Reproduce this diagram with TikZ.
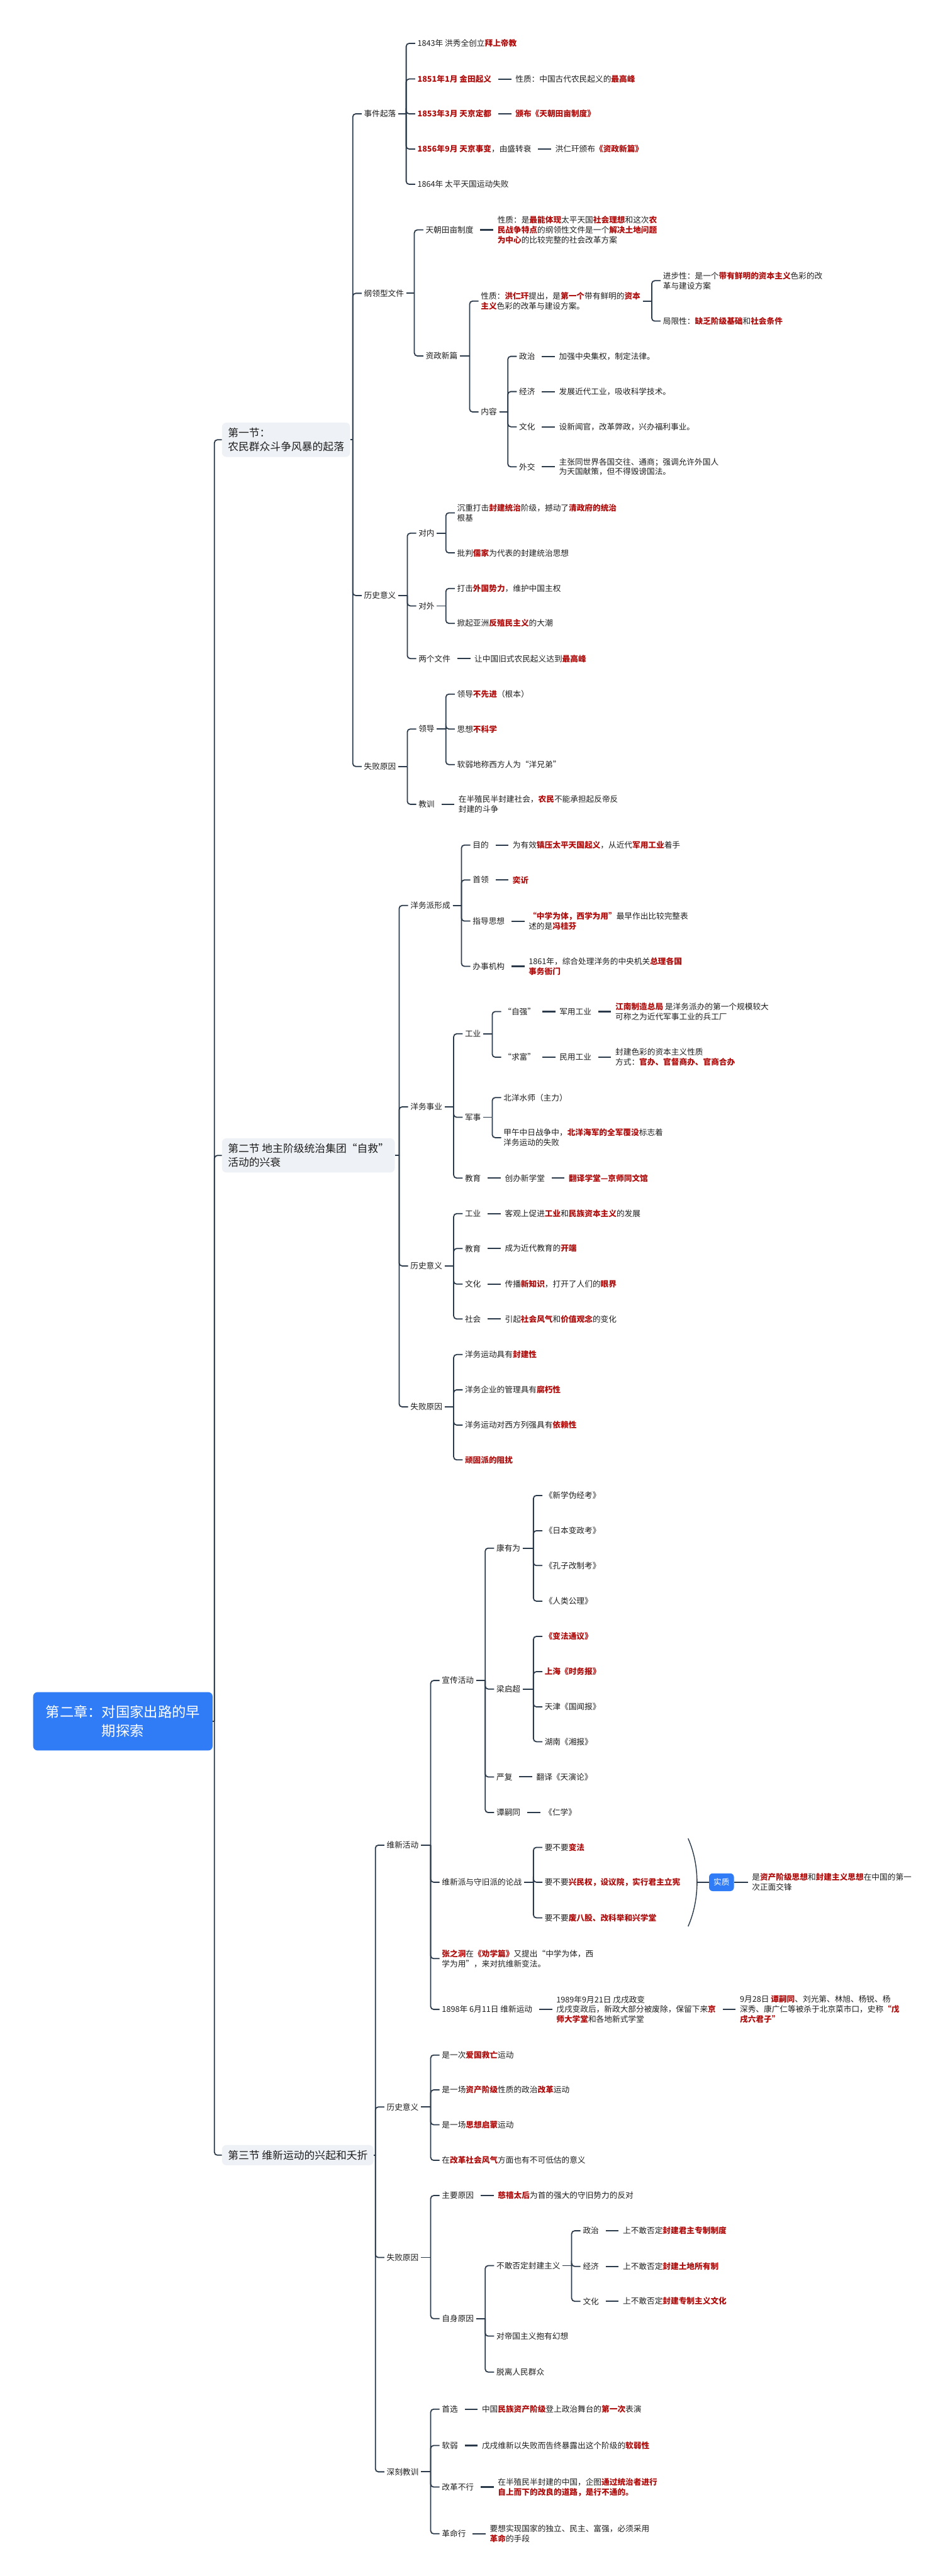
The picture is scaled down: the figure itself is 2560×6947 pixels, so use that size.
\documentclass[tikz,border=0pt]{standalone}
\usepackage{fontspec}
\setmainfont{Noto Sans CJK SC}
\usetikzlibrary{positioning}

\definecolor{ink}{HTML}{1E1E1E}
\definecolor{keyred}{HTML}{B00D0D}
\definecolor{linec}{HTML}{2B3A4B}
\definecolor{rootblue}{HTML}{2F7CF6}
\definecolor{secfill}{HTML}{EEF1F5}

\newcommand{\kw}[1]{\textcolor{keyred}{\bfseries #1}}
\newcommand{\fs}{\fontsize{10.75pt}{13.5pt}\selectfont}
% parent -> bar -> hooked children
\newcommand{\fork}[3][12pt]{%
  \foreach \kid in {#3} {
    \path (#2.east -| \kid.west) ++(-#1,0) coordinate (j);
    \draw[link] (#2.east) -- (j);
    \draw[link, rounded corners=4pt] (j) |- (\kid.west);
  }}

\begin{document}
\begin{tikzpicture}[
  x=0.5pt, y=-0.5pt, node distance=26pt,
  txt/.style={anchor=west, inner xsep=3pt, inner ysep=2pt, align=left, font=\fs, text=ink},
  sec/.style={anchor=west, fill=secfill, rounded corners=6pt, inner xsep=8pt, inner ysep=7pt,
              align=left, text=ink, font=\fontsize{14.25pt}{19pt}\selectfont},
  root/.style={anchor=west, fill=rootblue, rounded corners=6pt, inner xsep=17pt, inner ysep=18pt,
               align=center, text=white, font=\fontsize{18.9pt}{25pt}\selectfont},
  tag/.style={fill=rootblue, rounded corners=5pt, text=white, font=\fs, inner xsep=6pt, inner ysep=7pt},
  link/.style={draw=linec, line width=1.5pt},
  tie/.style={link, line width=1.8pt, shorten <=6pt, shorten >=2.5pt}
]
\fill[white] (0,0) rectangle (2560,6947);
\useasboundingbox (0,0) rectangle (2560,6947);

% root and sections
\node[root] (root) at (89,4642) {第二章：对国家出路的早\\期探索};
\node[sec] (s1) at (598,1186) {第一节：\\农民群众斗争风暴的起落};
\node[sec] (s2) at (598,3116) {第二节 地主阶级统治集团“自救”\\活动的兴衰};
\node[sec] (s3) at (598,5812) {第三节 维新运动的兴起和夭折};
\fork[10pt]{root}{s1,s2,s3}

% ---------- section 1
\node[txt] (sj) at (975,307) {事件起落};
\node[txt] (gl) at (975,791) {纲领型文件};
\node[txt] (ls1) at (975,1606) {历史意义};
\node[txt] (sb1) at (975,2067) {失败原因};
\fork{s1}{sj,gl,ls1,sb1}

\node[txt] (sj1) at (1119,117) {1843年 洪秀全创立\kw{拜上帝教}};
\node[txt] (sj2) at (1119,213) {\kw{1851年1月 金田起义}};
\node[txt, right=of sj2] (sj2a) {性质：中国古代农民起义的\kw{最高峰}};
\node[txt] (sj3) at (1119,307) {\kw{1853年3月 天京定都}};
\node[txt, right=of sj3] (sj3a) {\kw{颁布《天朝田亩制度》}};
\node[txt] (sj4) at (1119,402) {\kw{1856年9月 天京事变}，由盛转衰};
\node[txt, right=of sj4] (sj4a) {洪仁玕颁布\kw{《资政新篇》}};
\node[txt] (sj5) at (1119,497) {1864年 太平天国运动失败};
\fork{sj}{sj1,sj2,sj3,sj4,sj5}
\draw[tie] (sj2) -- (sj2a);
\draw[tie] (sj3) -- (sj3a);
\draw[tie] (sj4) -- (sj4a);

\node[txt] (tc) at (1141,620) {天朝田亩制度};
\node[txt, right=of tc] (tca) {性质：是\kw{最能体现}太平天国\kw{社会理想}和这次\kw{农}\\\kw{民战争特点}的纲领性文件是一个\kw{解决土地问题}\\\kw{为中心}的比较完整的社会改革方案};
\node[txt] (zx) at (1141,960) {资政新篇};
\fork{gl}{tc,zx}
\draw[tie] (tc) -- (tca);

\node[txt] (zx1) at (1290,812) {性质：\kw{洪仁玕}提出，是\kw{第一个}带有鲜明的\kw{资本}\\\kw{主义}色彩的改革与建设方案。};
\node[txt] (zx2) at (1290,1111) {内容};
\fork{zx}{zx1,zx2}
\node[txt] (jb) at (1781,757) {进步性：是一个\kw{带有鲜明的资本主义}色彩的改\\革与建设方案};
\node[txt] (jxz) at (1781,866) {局限性：\kw{缺乏阶级基础}和\kw{社会条件}};
\fork{zx1}{jb,jxz}

\node[txt] (nr1) at (1393,961) {政治};
\node[txt] (nr2) at (1393,1056) {经济};
\node[txt] (nr3) at (1393,1151) {文化};
\node[txt] (nr4) at (1393,1259) {外交};
\fork{zx2}{nr1,nr2,nr3,nr4}
\node[txt, right=of nr1] (nr1a) {加强中央集权，制定法律。};
\node[txt, right=of nr2] (nr2a) {发展近代工业，吸收科学技术。};
\node[txt, right=of nr3] (nr3a) {设新闻官，改革弊政，兴办福利事业。};
\node[txt, right=of nr4] (nr4a) {主张同世界各国交往、通商；强调允许外国人\\为天国献策，但不得毁谤国法。};
\draw[tie] (nr1) -- (nr1a);
\draw[tie] (nr2) -- (nr2a);
\draw[tie] (nr3) -- (nr3a);
\draw[tie] (nr4) -- (nr4a);

\node[txt] (dn) at (1122,1438) {对内};
\node[txt] (dw) at (1122,1634) {对外};
\node[txt] (lg) at (1122,1776) {两个文件};
\fork{ls1}{dn,dw,lg}
\node[txt] (dn1) at (1226,1383) {沉重打击\kw{封建统治}阶级，撼动了\kw{清政府的统治}\\根基};
\node[txt] (dn2) at (1226,1491) {批判\kw{儒家}为代表的封建统治思想};
\fork{dn}{dn1,dn2}
\node[txt] (dw1) at (1226,1587) {打击\kw{外国势力}，维护中国主权};
\node[txt] (dw2) at (1226,1681) {掀起亚洲\kw{反殖民主义}的大潮};
\fork{dw}{dw1,dw2}
\node[txt, right=of lg] (lga) {让中国旧式农民起义达到\kw{最高峰}};
\draw[tie] (lg) -- (lga);

\node[txt] (ld) at (1122,1966) {领导};
\node[txt] (jx1) at (1122,2169) {教训};
\fork{sb1}{ld,jx1}
\node[txt] (ld1) at (1226,1872) {领导\kw{不先进}（根本）};
\node[txt] (ld2) at (1226,1966) {思想\kw{不科学}};
\node[txt] (ld3) at (1226,2062) {软弱地称西方人为“洋兄弟”};
\fork{ld}{ld1,ld2,ld3}
\node[txt, right=of jx1] (jx1a) {在半殖民半封建社会，\kw{农民}不能承担起反帝反\\封建的斗争};
\draw[tie] (jx1) -- (jx1a);

% ---------- section 2
\node[txt] (yx) at (1100,2442) {洋务派形成};
\node[txt] (yw) at (1100,2985) {洋务事业};
\node[txt] (ls2) at (1100,3414) {历史意义};
\node[txt] (sb2) at (1100,3794) {失败原因};
\fork{s2}{yx,yw,ls2,sb2}

\node[txt] (md) at (1268,2279) {目的};
\node[txt] (sl) at (1268,2373) {首领};
\node[txt] (zd) at (1268,2484) {指导思想};
\node[txt] (bs) at (1268,2606) {办事机构};
\fork{yx}{md,sl,zd,bs}
\node[txt, right=of md] (mda) {为有效\kw{镇压太平天国起义}，从近代\kw{军用工业}着手};
\node[txt, right=of sl] (sla) {\kw{奕䜣}};
\node[txt, right=of zd] (zda) {\kw{“中学为体，西学为用”}最早作出比较完整表\\述的是\kw{冯桂芬}};
\node[txt, right=of bs] (bsa) {1861年，综合处理洋务的中央机关\kw{总理各国}\\\kw{事务衙门}};
\draw[tie] (md) -- (mda);
\draw[tie] (sl) -- (sla);
\draw[tie] (zd) -- (zda);
\draw[tie] (bs) -- (bsa);

\node[txt] (gy) at (1247,2788) {工业};
\node[txt] (js) at (1247,3013) {军事};
\node[txt] (jy) at (1247,3177) {教育};
\fork{yw}{gy,js,jy}
\node[txt] (zq) at (1351,2728) {“自强”};
\node[txt] (qf) at (1351,2851) {“求富”};
\fork{gy}{zq,qf}
\node[txt, right=of zq] (jgy) {军用工业};
\node[txt, right=of jgy] (jgya) {\kw{江南制造总局} 是洋务派办的第一个规模较大\\可称之为近代军事工业的兵工厂};
\node[txt, right=of qf] (myy) {民用工业};
\node[txt, right=of myy] (myya) {封建色彩的资本主义性质\\方式：\kw{官办、官督商办、官商合办}};
\draw[tie] (zq) -- (jgy);
\draw[tie] (jgy) -- (jgya);
\draw[tie] (qf) -- (myy);
\draw[tie] (myy) -- (myya);
\node[txt] (js1) at (1351,2960) {北洋水师（主力）};
\node[txt] (js2) at (1351,3068) {甲午中日战争中，\kw{北洋海军的全军覆没}标志着\\洋务运动的失败};
\fork{js}{js1,js2}
\node[txt, right=of jy] (jy1) {创办新学堂};
\node[txt, right=of jy1] (jy2) {\kw{翻译学堂—京师同文馆}};
\draw[tie] (jy) -- (jy1);
\draw[tie] (jy1) -- (jy2);

\node[txt] (lg1) at (1247,3273) {工业};
\node[txt] (lg2) at (1247,3367) {教育};
\node[txt] (lg3) at (1247,3463) {文化};
\node[txt] (lg4) at (1247,3557) {社会};
\fork{ls2}{lg1,lg2,lg3,lg4}
\node[txt, right=of lg1] (lg1a) {客观上促进\kw{工业}和\kw{民族资本主义}的发展};
\node[txt, right=of lg2] (lg2a) {成为近代教育的\kw{开端}};
\node[txt, right=of lg3] (lg3a) {传播\kw{新知识}，打开了人们的\kw{眼界}};
\node[txt, right=of lg4] (lg4a) {引起\kw{社会风气}和\kw{价值观念}的变化};
\draw[tie] (lg1) -- (lg1a);
\draw[tie] (lg2) -- (lg2a);
\draw[tie] (lg3) -- (lg3a);
\draw[tie] (lg4) -- (lg4a);

\node[txt] (fb1) at (1247,3653) {洋务运动具有\kw{封建性}};
\node[txt] (fb2) at (1247,3748) {洋务企业的管理具有\kw{腐朽性}};
\node[txt] (fb3) at (1247,3843) {洋务运动对西方列强具有\kw{依赖性}};
\node[txt] (fb4) at (1247,3937) {\kw{顽固派的阻扰}};
\fork{sb2}{fb1,fb2,fb3,fb4}

% ---------- section 3
\node[txt] (wx) at (1036,4976) {维新活动};
\node[txt] (ls3) at (1036,5682) {历史意义};
\node[txt] (sb3) at (1036,6088) {失败原因};
\node[txt] (sk) at (1036,6666) {深刻教训};
\fork{s3}{wx,ls3,sb3,sk}

\node[txt] (xc) at (1185,4532) {宣传活动};
\node[txt] (lz) at (1185,5076) {维新派与守旧派的论战};
\node[txt] (zzd) at (1185,5282) {\kw{张之洞}在\kw{《劝学篇》}又提出“中学为体，西\\学为用”，来对抗维新变法。};
\node[txt] (wy) at (1185,5419) {1898年 6月11日 维新运动};
\fork{wx}{xc,lz,zzd,wy}

\node[txt] (ky) at (1332,4175) {康有为};
\node[txt] (lq) at (1332,4555) {梁启超};
\node[txt] (yf) at (1332,4792) {严复};
\node[txt] (tst) at (1332,4888) {谭嗣同};
\fork{xc}{ky,lq,yf,tst}
\node[txt] (ky1) at (1462,4033) {《新学伪经考》};
\node[txt] (ky2) at (1462,4128) {《日本变政考》};
\node[txt] (ky3) at (1462,4222) {《孔子改制考》};
\node[txt] (ky4) at (1462,4318) {《人类公理》};
\fork{ky}{ky1,ky2,ky3,ky4}
\node[txt] (lq1) at (1462,4413) {\kw{《变法通议》}};
\node[txt] (lq2) at (1462,4508) {\kw{上海《时务报》}};
\node[txt] (lq3) at (1462,4603) {天津《国闻报》};
\node[txt] (lq4) at (1462,4697) {湖南《湘报》};
\fork{lq}{lq1,lq2,lq3,lq4}
\node[txt, right=of yf] (yfa) {翻译《天演论》};
\node[txt, right=of tst] (tsta) {《仁学》};
\draw[tie] (yf) -- (yfa);
\draw[tie] (tst) -- (tsta);

\node[txt] (lz1) at (1462,4982) {要不要\kw{变法}};
\node[txt] (lz2) at (1462,5076) {要不要\kw{兴民权，设议院，实行君主立宪}};
\node[txt] (lz3) at (1462,5172) {要不要\kw{废八股、改科举和兴学堂}};
\fork{lz}{lz1,lz2,lz3}
\coordinate (bt) at (1855,4958);
\coordinate (bb) at (1855,5195);
\coordinate (bm) at (1879,5076);
\draw[linec, line width=1.2pt] (bt) .. controls (1887,5030) and (1887,5122) .. (bb);
\node[tag] (sz) at (1945,5076) {实质};
\node[txt, right=21pt of sz] (sza) {是\kw{资产阶级思想}和\kw{封建主义思想}在中国的第一\\次正面交锋};
\draw[link, line width=1.8pt] (bm) -- (sz);
\draw[link, line width=1.8pt, shorten >=2.5pt] (sz) -- (sza);

\node[txt, right=of wy] (wy1) {1989年9月21日 戊戌政变\\戊戌变政后，新政大部分被废除，保留下来\kw{京}\\\kw{师大学堂}和各地新式学堂};
\node[txt, right=of wy1] (wy2) {9月28日 \kw{谭嗣同}、刘光第、林旭、杨锐、杨\\深秀、康广仁等被杀于北京菜市口，史称\kw{“戊}\\\kw{戌六君子”}};
\draw[tie] (wy) -- (wy1);
\draw[tie] (wy1) -- (wy2);

\node[txt] (yy1) at (1185,5542) {是一次\kw{爱国救亡}运动};
\node[txt] (yy2) at (1185,5636) {是一场\kw{资产阶级}性质的政治\kw{改革}运动};
\node[txt] (yy3) at (1185,5730) {是一场\kw{思想启蒙}运动};
\node[txt] (yy4) at (1185,5826) {在\kw{改革社会风气}方面也有不可低估的意义};
\fork{ls3}{yy1,yy2,yy3,yy4}

\node[txt] (zy) at (1185,5921) {主要原因};
\node[txt] (zs) at (1185,6253) {自身原因};
\fork{sb3}{zy,zs}
\node[txt, right=of zy] (zya) {\kw{慈禧太后}为首的强大的守旧势力的反对};
\draw[tie] (zy) -- (zya);
\node[txt] (bg) at (1332,6110) {不敢否定封建主义};
\node[txt] (dg) at (1332,6300) {对帝国主义抱有幻想};
\node[txt] (tl) at (1332,6397) {脱离人民群众};
\fork{zs}{bg,dg,tl}
\node[txt] (bg1) at (1565,6016) {政治};
\node[txt] (bg2) at (1565,6112) {经济};
\node[txt] (bg3) at (1565,6206) {文化};
\fork{bg}{bg1,bg2,bg3}
\node[txt, right=of bg1] (bg1a) {上不敢否定\kw{封建君主专制制度}};
\node[txt, right=of bg2] (bg2a) {上不敢否定\kw{封建土地所有制}};
\node[txt, right=of bg3] (bg3a) {上不敢否定\kw{封建专制主义文化}};
\draw[tie] (bg1) -- (bg1a);
\draw[tie] (bg2) -- (bg2a);
\draw[tie] (bg3) -- (bg3a);

\node[txt] (sk1) at (1185,6497) {首选};
\node[txt] (sk2) at (1185,6595) {软弱};
\node[txt] (sk3) at (1185,6707) {改革不行};
\node[txt] (sk4) at (1185,6833) {革命行};
\fork{sk}{sk1,sk2,sk3,sk4}
\node[txt, right=of sk1] (sk1a) {中国\kw{民族资产阶级}登上政治舞台的\kw{第一次}表演};
\node[txt, right=of sk2] (sk2a) {戊戌维新以失败而告终暴露出这个阶级的\kw{软弱性}};
\node[txt, right=of sk3] (sk3a) {在半殖民半封建的中国，企图\kw{通过统治者进行}\\\kw{自上而下的改良的道路，是行不通的。}};
\node[txt, right=of sk4] (sk4a) {要想实现国家的独立、民主、富强，必须采用\\\kw{革命}的手段};
\draw[tie] (sk1) -- (sk1a);
\draw[tie] (sk2) -- (sk2a);
\draw[tie] (sk3) -- (sk3a);
\draw[tie] (sk4) -- (sk4a);
\end{tikzpicture}
\end{document}
